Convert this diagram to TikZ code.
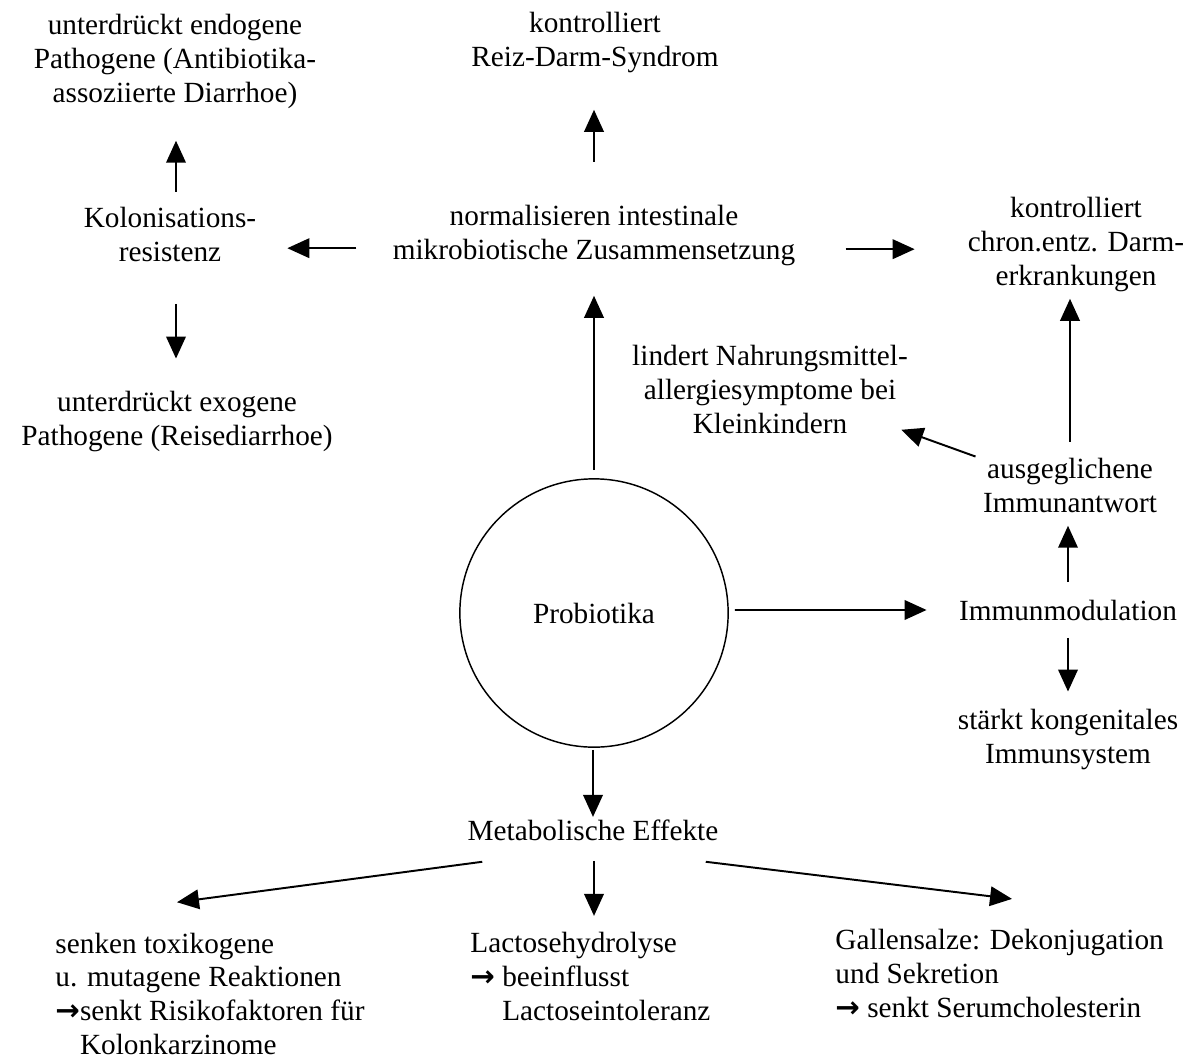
\documentclass[tikz,border=0pt]{standalone}
\usepackage{fontspec}
\setmainfont{Liberation Serif}
\newfontfamily\pfeilfont{DejaVu Sans}
\usetikzlibrary{arrows.meta,calc}
\newcommand{\rpfeil}{{\pfeilfont\bfseries\char"2192}}

\begin{document}
\begin{tikzpicture}[x=0.41pt, y=-0.41pt,
    txt/.style={align=center, inner sep=0pt, anchor=base, font=\fontsize{12}{13.8}\selectfont},
    ltxt/.style={align=left, inner sep=0pt, anchor=base west, font=\fontsize{12}{13.8}\selectfont},
    pfeil/.style={-{Triangle[length=9pt,width=8pt]}, line width=0.8pt}]

                \useasboundingbox (0,0) rectangle (1192,1061);

                \node[txt] (endo) at (175,102) {unterdrückt endogene\\Pathogene (Antibiotika-\\assoziierte Diarrhoe)};
                \node[txt] (reiz) at (595,66) {kontrolliert\\Reiz-Darm-Syndrom};
                \node[txt] (kolon) at (170,261) {Kolonisations-\\resistenz};
                \node[txt] (norm) at (594,259) {normalisieren intestinale\\mikrobiotische Zusammensetzung};
                \node[txt] (chron) at (1076,285) {kontrolliert\\chron.entz. Darm-\\erkrankungen};
                \node[txt] (exo) at (177,445) {unterdrückt exogene\\Pathogene (Reisediarrhoe)};
                \node[txt] (lind) at (770,433) {lindert Nahrungsmittel-\\allergiesymptome bei\\Kleinkindern};
                \node[txt] (ausg) at (1070,512) {ausgeglichene\\Immunantwort};
                \node[circle, draw, line width=0.6pt, minimum size=110pt, inner sep=0pt,
                      font=\fontsize{12}{13.8}\selectfont] (probio) at (594,613) {Probiotika};
                \node[txt] (immod) at (1068,620) {Immunmodulation};
                \node[txt] (staerkt) at (1068,763) {stärkt kongenitales\\Immunsystem};
                \node[txt] (meta) at (593,840) {Metabolische Effekte};

                \node[ltxt] (links) at (55,1054) {senken toxikogene\\u. mutagene Reaktionen\\\rpfeil senkt Risikofaktoren für\\\phantom{\rpfeil}Kolonkarzinome};
                \node[ltxt] (mitte) at (470,1020) {Lactosehydrolyse\\\rpfeil{} beeinflusst\\\phantom{\rpfeil\ }Lactoseintoleranz};
                \node[ltxt] (rechts) at (835,1017) {Gallensalze: Dekonjugation\\und Sekretion\\\rpfeil{} senkt Serumcholesterin};

                \draw[pfeil] ($(kolon.north)+(6,-15)$) -- ($(endo.south)+(1,32)$);
                \draw[pfeil] ($(norm.west)+(-36,13)$) -- ($(norm.west)+(-105,13)$);
                \draw[pfeil] ($(kolon.south)+(6,42)$) -- ($(exo.north)+(-1,-32)$);
                \draw[pfeil] ($(norm.north)+(0,-43)$) -- ($(reiz.south)+(-1,37)$);
                \draw[pfeil] ($(norm.east)+(50,14)$) -- ($(norm.east)+(119,14)$);
                \draw[pfeil] ($(probio.north)+(0,-8)$) -- ($(norm.south)+(0,30)$);
                \draw[pfeil] ($(ausg.north)+(0,-16)$) -- ($(chron.south)+(-6,7)$);
                \draw[pfeil] ($(ausg.north west)+(-7,-1)$) -- ($(lind.south east)+(-7,-4)$);
                \draw[pfeil] ($(immod.north)+(0,-17)$) -- ($(ausg.south)+(-2,13)$);
                \draw[pfeil] ($(probio.east)+(6,-3)$) -- ($(immod.west)+(-32,0)$);
                \draw[pfeil] ($(immod.south)+(0,17)$) -- ($(staerkt.north)+(0,-17)$);
                \draw[pfeil] ($(probio.south)+(-1,2)$) -- ($(meta.north)+(0,-2)$);
                \draw[pfeil] ($(meta.south west)+(15,21)$) -- ($(links.north west)+(122,-30)$);
                \draw[pfeil] ($(meta.south)+(1,20)$) -- ($(mitte.north west)+(124,-16)$);
                \draw[pfeil] ($(meta.south east)+(-13,21)$) -- ($(rechts.north west)+(177,-30)$);

\end{tikzpicture}
\end{document}
